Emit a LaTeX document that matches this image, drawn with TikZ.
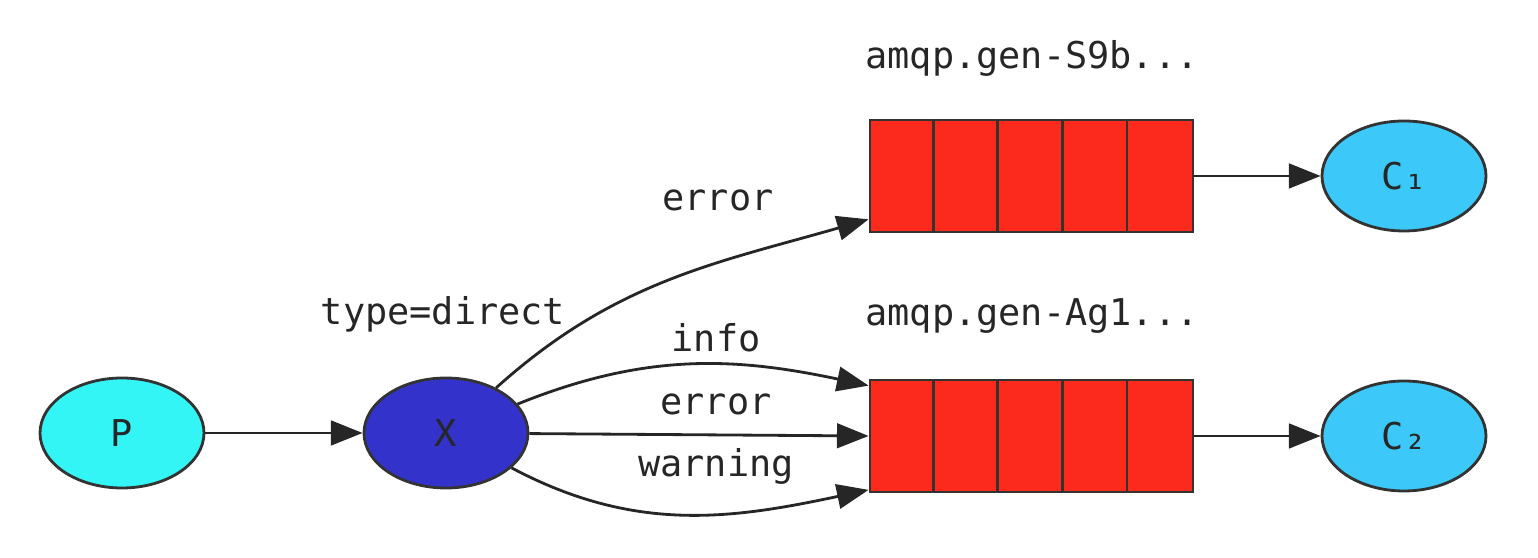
\documentclass[tikz,border=0pt]{standalone}
\usepackage{fontspec}
\setmonofont{DejaVu Sans Mono}
\usepackage{xcolor}
\usetikzlibrary{shapes.geometric,arrows.meta}
\definecolor{prodcol}{HTML}{33F5F5}
\definecolor{exchcol}{HTML}{3333CC}
\definecolor{queuecol}{HTML}{FB2A1C}
\definecolor{conscol}{HTML}{3CC8F8}
\tikzset{
  prod/.style={ellipse, fill=prodcol, draw=black!80, minimum width=1.64cm, minimum height=1.1cm, thick},
  exch/.style={ellipse, fill=exchcol, draw=black!80, minimum width=1.64cm, minimum height=1.1cm, thick},
  cons/.style={ellipse, fill=conscol, draw=black!80, minimum width=1.64cm, minimum height=1.1cm, thick},
  qbox/.style={rectangle, fill=queuecol, draw=black!80, minimum width=3.23cm, minimum height=1.12cm, thick, inner sep=0pt},
  edg/.style={draw=black!85, line width=0.8pt, -{Triangle[length=9pt,width=7pt]}},
  lbl/.style={font=\ttfamily\fontsize{10.5}{12}\selectfont, text=black!85, inner sep=1pt}
}

\begin{document}
\begin{tikzpicture}
  \useasboundingbox (0,0) rectangle (15.38,5.58);
  \node[prod, lbl] (p) at (1.22,1.25) {P};
  \node[exch, lbl] (x) at (4.46,1.25) {X};
  \node[qbox] (q1) at (10.315,3.82) {};
  \node[qbox] (q2) at (10.315,1.22) {};
  \node[cons, lbl] (c1) at (14.04,3.82) {C₁};
  \node[cons, lbl] (c2) at (14.04,1.22) {C₂};
  \foreach \q in {q1,q2}
    \foreach \i in {1,...,4}
      \draw[black!80, thick] ([xshift=\i*0.646cm]\q.north west) -- ([xshift=\i*0.646cm]\q.south west);
  \node[lbl] (tp) at (4.43,2.44) {type=direct};
  \node[lbl] (n1) at (10.32,5.00) {amqp.gen-S9b...};
  \node[lbl] (n2) at (10.32,2.42) {amqp.gen-Ag1...};
  \node[lbl] (e1) at (7.18,3.58) {error};
  \node[lbl] (e2) at (7.16,2.20) {info};
  \node[lbl] (e3) at (7.16,1.54) {error};
  \node[lbl] (e4) at (7.16,0.92) {warning};
  \draw[edg] (p) -- (x);
  \draw[edg] (x) to[out=42, in=196] ([yshift=4pt]q1.south west);
  \draw[edg] (x) to[out=22, in=168] ([yshift=-2pt]q2.north west);
  \draw[edg] (x) -- (q2.west);
  \draw[edg] (x) to[out=-28, in=192] ([yshift=1pt]q2.south west);
  \draw[edg] (q1) -- (c1);
  \draw[edg] (q2) -- (c2);
\end{tikzpicture}
\end{document}
